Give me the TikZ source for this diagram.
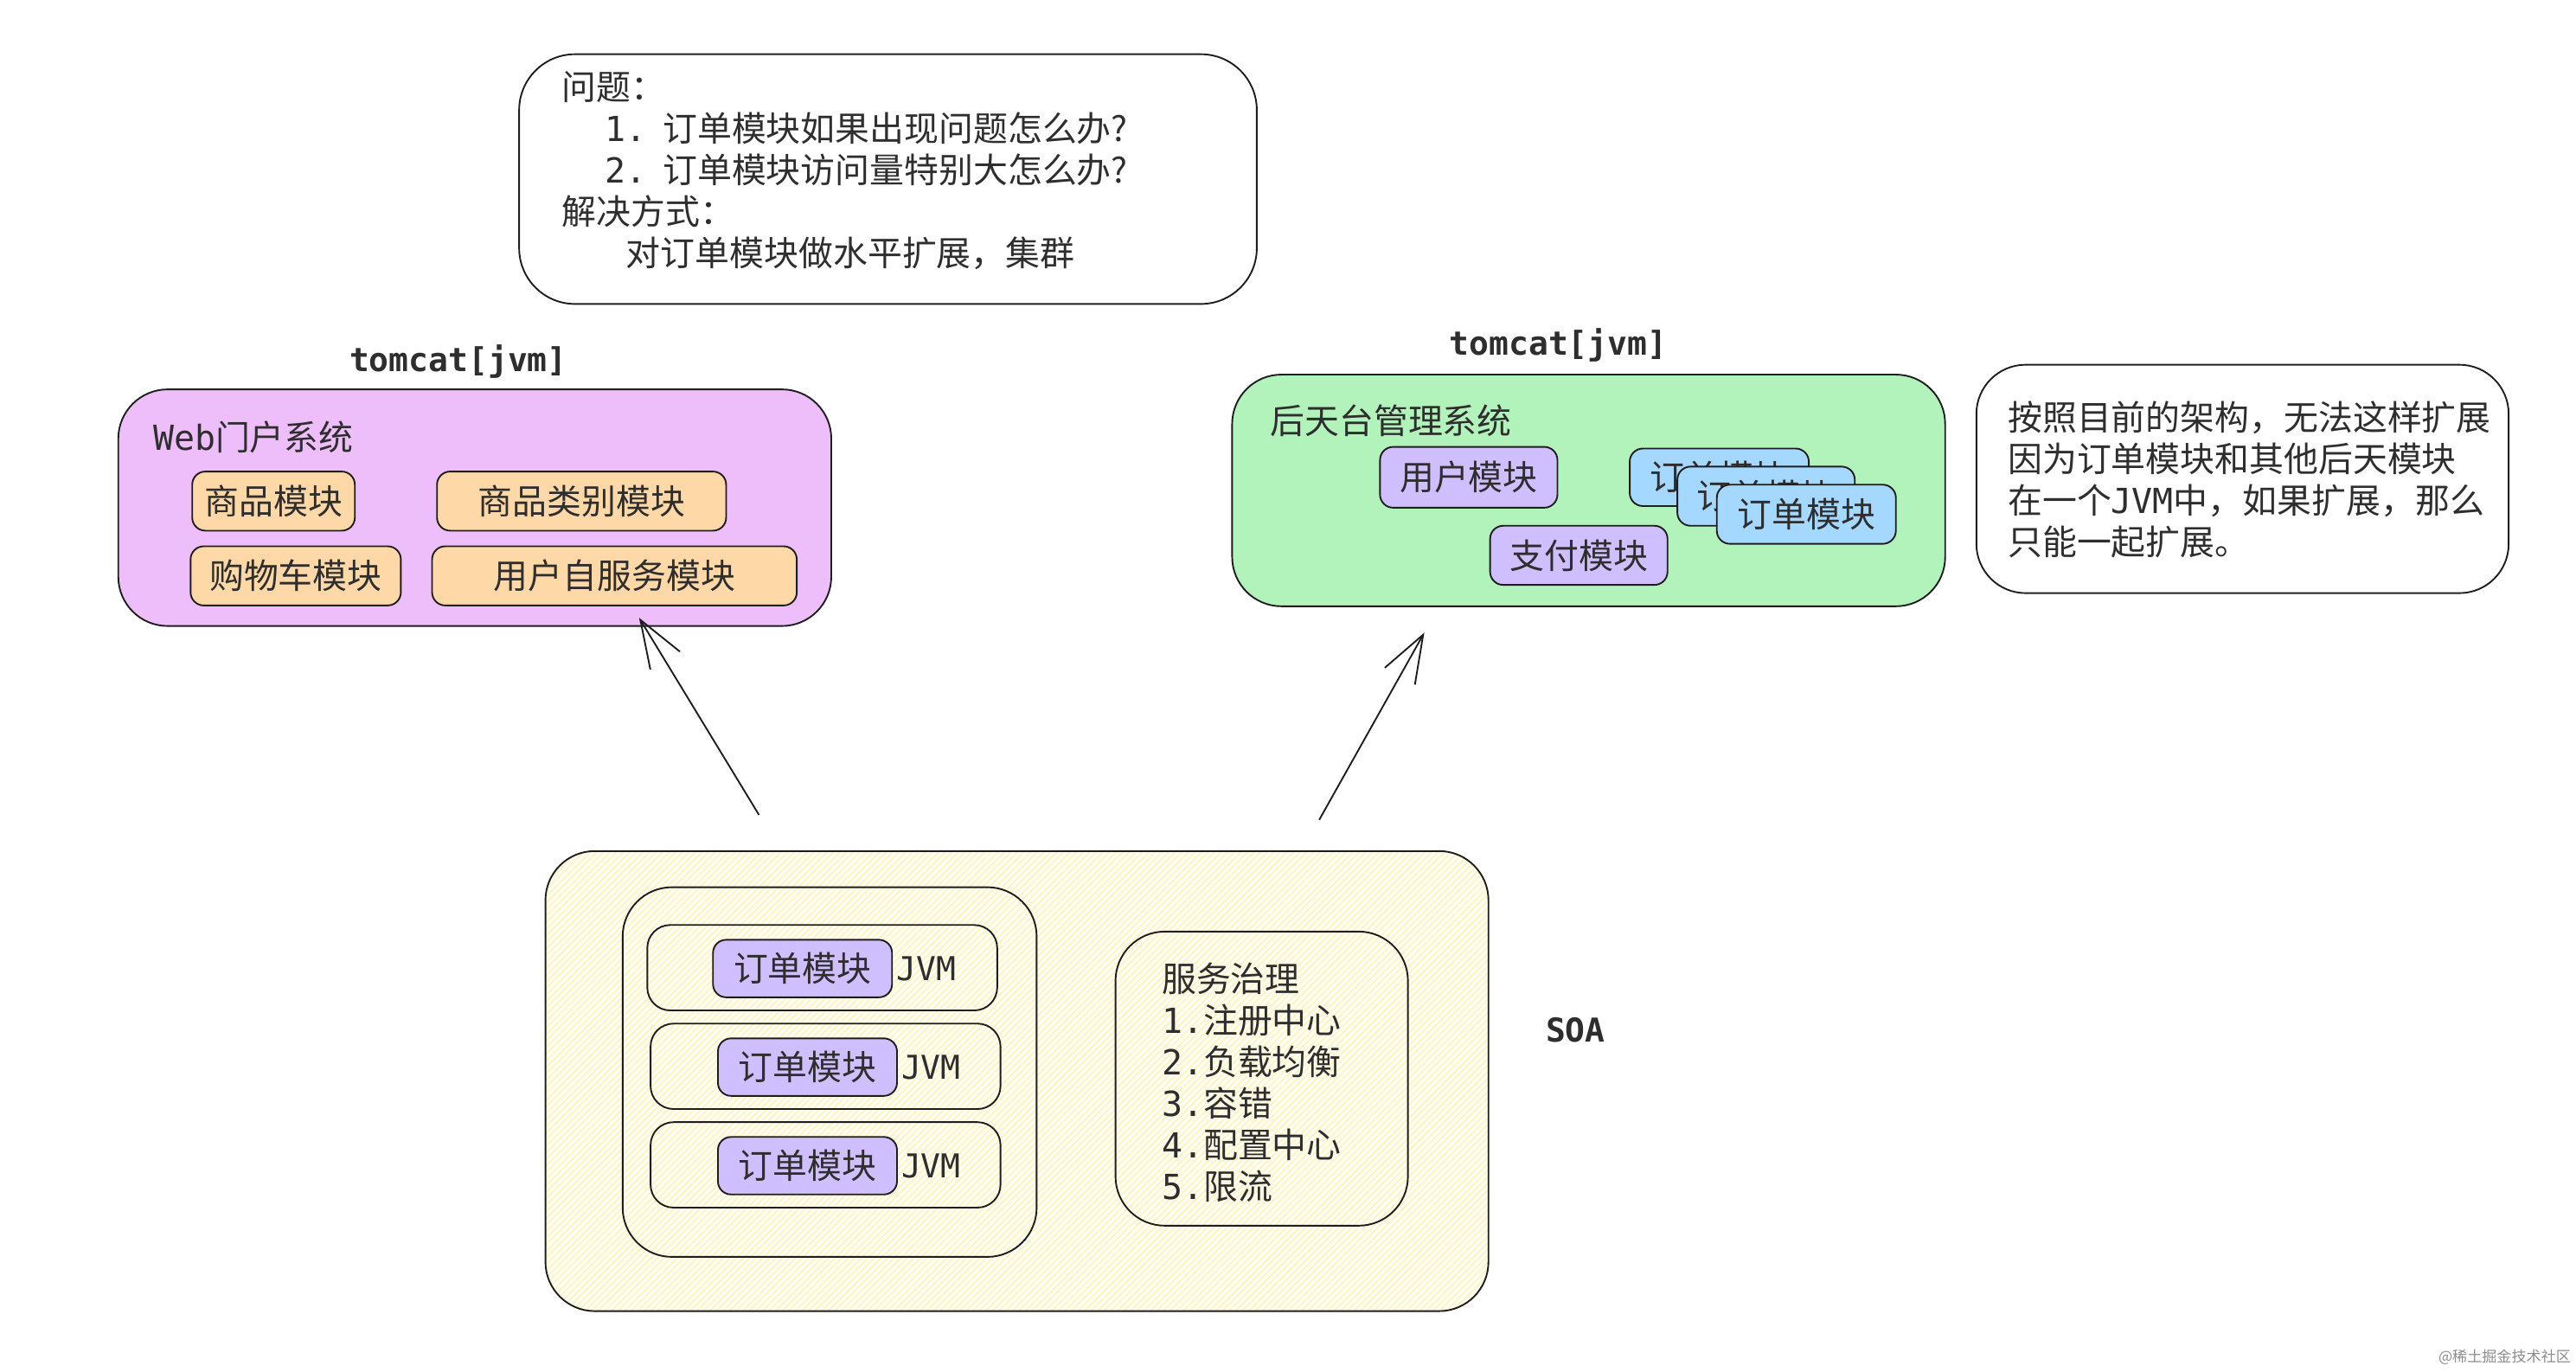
\documentclass[tikz,border=0pt]{standalone}
\usepackage{fontspec}
\setmainfont{Noto Sans CJK SC}
\newfontfamily\mono{DejaVu Sans Mono}
\usetikzlibrary{positioning,arrows.meta}

\definecolor{ink}{HTML}{1E1E1E}
\definecolor{txt}{HTML}{2E2E2E}
\definecolor{webpink}{HTML}{EEBEFA}
\definecolor{modorange}{HTML}{FFD8A8}
\definecolor{mgrgreen}{HTML}{B2F2BB}
\definecolor{modviolet}{HTML}{D0BFFF}
\definecolor{modblue}{HTML}{A5D8FF}
\definecolor{soayellow}{HTML}{FFFEF5}
\definecolor{hatchyellow}{HTML}{FFF3C0}

\begin{document}
\begin{tikzpicture}[x=1pt,y=-1pt]
\tikzset{bigbox/.style={draw=ink,line width=1pt,rounded corners=30pt,inner sep=0pt}}
\tikzset{jvmbox/.style={draw=ink,line width=1pt,rounded corners=14pt,inner sep=0pt,minimum width=213pt,minimum height=52pt}}
\tikzset{module/.style={draw=ink,line width=1pt,rounded corners=8pt,inner sep=0pt,minimum height=36pt,text=txt,font=\fontsize{21}{25.3}\selectfont}}
\tikzset{label/.style={inner sep=0pt,text=txt,font=\fontsize{21}{25.3}\selectfont}}
\tikzset{title/.style={inner sep=0pt,text=txt,font=\mono\bfseries\fontsize{20}{24}\selectfont}}
\tikzset{jvmtext/.style={inner sep=0pt,text=txt,font=\mono\fontsize{20}{24}\selectfont}}
\tikzset{flow/.style={draw=ink,line width=1pt,-{Straight Barb[length=29pt,width=21pt,line width=1pt]}}}
\tikzset{hatch/.style={draw=hatchyellow,line width=0.9pt}}

\useasboundingbox (0,0) rectangle (1568,835);

% questions
\node[bigbox,rounded corners=34pt,minimum width=449pt,minimum height=152pt] (question) at (540.5,109) {};
\node[label,anchor=west,align=left] (questiontext) at (342,104) {问题：\\
\hspace*{26pt}{\mono 1.}\hspace{10pt}订单模块如果出现问题怎么办?\\
\hspace*{26pt}{\mono 2.}\hspace{10pt}订单模块访问量特别大怎么办?\\
解决方式：\\
\hspace*{39pt}对订单模块做水平扩展，集群};

% web portal
\node[title] (webtomcat) at (279,220) {tomcat[jvm]};
\node[bigbox,fill=webpink,minimum width=434pt,minimum height=144pt] (web) at (289,309) {};
\node[label,anchor=west] (webname) at (93,266) {{\mono Web}门户系统};
\node[module,fill=modorange,minimum width=99pt] (goods) at (166.5,305) {商品模块};
\node[module,fill=modorange,minimum width=176pt] (category) at (354,305) {商品类别模块};
\node[module,fill=modorange,minimum width=128pt] (cart) at (180,350.5) {购物车模块};
\node[module,fill=modorange,minimum width=222pt] (selfservice) at (374,350.5) {用户自服务模块};

% back office
\node[title] (mgrtomcat) at (948.5,210) {tomcat[jvm]};
\node[bigbox,fill=mgrgreen,minimum width=434pt,minimum height=141pt] (mgr) at (967,298.5) {};
\node[label,anchor=west] (mgrname) at (773,256) {后天台管理系统};
\node[module,fill=modviolet,minimum width=108pt,minimum height=37pt] (user) at (894,290.5) {用户模块};
\node[module,fill=modblue,minimum width=109pt,minimum height=35pt] (order1) at (1046.5,290.5) {订单模块};
\node[module,fill=modblue,minimum width=108pt] (order2) at (1075,302) {订单模块};
\node[module,fill=modblue,minimum width=109pt] (order3) at (1099.5,313) {订单模块};
\node[module,fill=modviolet,minimum width=108pt] (pay) at (961,338) {支付模块};

% note
\node[bigbox,minimum width=324pt,minimum height=139pt] (note) at (1365,291.5) {};
\node[label,anchor=west,align=left] (notetext) at (1222,292) {按照目前的架构，无法这样扩展\\
因为订单模块和其他后天模块\\
在一个{\mono JVM}中，如果扩展，那么\\
只能一起扩展。};

% soa
\node[bigbox,fill=soayellow,minimum width=574pt,minimum height=280pt,
  path picture={\foreach \i in {0,4,...,880} {
    \draw[hatch] ([xshift=\i pt-300pt]path picture bounding box.south west) -- ++(300,-300);
  }}] (soa) at (619,658) {};
\node[bigbox,minimum width=252pt,minimum height=225pt] (cluster) at (505,652.5) {};
\node[jvmbox] (jvm1) at (500.5,589) {};
\node[jvmbox] (jvm2) at (502.5,649) {};
\node[jvmbox] (jvm3) at (502.5,709) {};
\node[module,fill=modviolet,minimum width=109pt,minimum height=35pt] (soaorder1) at (488.5,589.5) {订单模块};
\node[module,fill=modviolet,minimum width=109pt,minimum height=35pt] (soaorder2) at (491.5,649.5) {订单模块};
\node[module,fill=modviolet,minimum width=109pt,minimum height=35pt] (soaorder3) at (491.5,709.5) {订单模块};
\node[jvmtext,right=2pt of soaorder1] (jvmname1) {JVM};
\node[jvmtext,right=2pt of soaorder2] (jvmname2) {JVM};
\node[jvmtext,right=2pt of soaorder3] (jvmname3) {JVM};
\node[bigbox,minimum width=178pt,minimum height=179pt] (governance) at (768,656.5) {};
\node[label,anchor=west,align=left] (governancetext) at (707,659) {服务治理\\
{\mono 1.}注册中心\\
{\mono 2.}负载均衡\\
{\mono 3.}容错\\
{\mono 4.}配置中心\\
{\mono 5.}限流};
\node[title] (soaname) at (959,627) {SOA};

% arrows
\coordinate (webtail) at (462,496);
\coordinate (webtip) at (389,376);
\coordinate (mgrtail) at (803,499);
\coordinate (mgrtip) at (867,385);
\draw[flow] (webtail) -- (webtip);
\draw[flow] (mgrtail) -- (mgrtip);

\node[inner sep=0pt,anchor=east,text=black!45,font=\fontsize{9}{10}\selectfont] (watermark) at (1565,826) {@稀土掘金技术社区};
\end{tikzpicture}
\end{document}
